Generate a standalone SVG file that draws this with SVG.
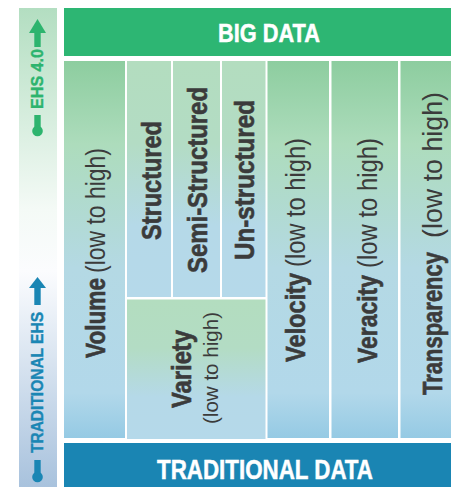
<svg xmlns="http://www.w3.org/2000/svg" width="451" height="487" viewBox="0 0 451 487">
  <defs>
    <linearGradient id="gMain" x1="0" y1="0" x2="0" y2="1">
      <stop offset="0" stop-color="#8dcd9f"/>
      <stop offset="0.22" stop-color="#addcbc"/>
      <stop offset="0.55" stop-color="#b4d9e4"/>
      <stop offset="0.88" stop-color="#b2d8ea"/>
      <stop offset="1" stop-color="#95cae4"/>
    </linearGradient>
    <linearGradient id="gSub" x1="0" y1="0" x2="0" y2="1">
      <stop offset="0" stop-color="#b3ddbf"/>
      <stop offset="0.35" stop-color="#b3dcc4"/>
      <stop offset="0.7" stop-color="#b5d9e8"/>
      <stop offset="1" stop-color="#b5d9ea"/>
    </linearGradient>
    <linearGradient id="gLeft" x1="0" y1="0" x2="0" y2="1">
      <stop offset="0" stop-color="#b3dec1"/>
      <stop offset="0.42" stop-color="#f4faf6"/>
      <stop offset="0.55" stop-color="#fbfcfe"/>
      <stop offset="1" stop-color="#a8c2dd"/>
    </linearGradient>
    <style>
      .b { font-family: "Liberation Sans Narrow", "Liberation Sans", Arial, sans-serif; font-weight: bold; fill: #3b3b3b; stroke: #3b3b3b; stroke-width: 0.6; }
      .r { font-family: "Liberation Sans Narrow", "Liberation Sans", Arial, sans-serif; font-weight: normal; fill: #3b3b3b; }
      .hd { font-family: "Liberation Sans Narrow", "Liberation Sans", Arial, sans-serif; font-weight: bold; fill: #ffffff; stroke: #ffffff; stroke-width: 0.5; }
      .side { font-family: "Liberation Sans Narrow", "Liberation Sans", Arial, sans-serif; font-weight: bold; stroke-width: 0.4; }
    </style>
  </defs>

  <rect x="0" y="0" width="451" height="487" fill="#ffffff"/>

  <g id="left-bar">
    <rect x="19" y="8" width="38" height="479" fill="url(#gLeft)"/>
    <g id="ehs40" fill="#2db46e">
      <polygon points="37.5,19 46,33 29,33"/>
      <rect x="34.3" y="32" width="6.4" height="15"/>
      <text class="side" font-size="17" fill="#2db46e" stroke="#2db46e" transform="translate(42.7,109) rotate(-90)" textLength="60" lengthAdjust="spacingAndGlyphs">EHS 4.0</text>
      <rect x="34.3" y="115" width="6.4" height="16"/>
      <circle cx="37.5" cy="131" r="5.3"/>
    </g>
    <g id="traditional-ehs" fill="#1a86b4">
      <polygon points="37.5,277 46,288 29,288"/>
      <rect x="34.3" y="287" width="6.4" height="18"/>
      <text class="side" font-size="17" fill="#1a86b4" stroke="#1a86b4" transform="translate(43,453) rotate(-90)" textLength="141" lengthAdjust="spacingAndGlyphs">TRADITIONAL EHS</text>
      <rect x="34.3" y="460" width="6.4" height="16"/>
      <circle cx="37.5" cy="477" r="5.3"/>
    </g>
  </g>

  <g id="big-data">
    <rect x="64" y="8" width="387" height="48" fill="#2db673"/>
    <text class="hd" font-size="26" x="269" y="42" text-anchor="middle" textLength="102" lengthAdjust="spacingAndGlyphs">BIG DATA</text>
  </g>

  <g id="volume">
    <rect x="64" y="61" width="61" height="377" fill="url(#gMain)"/>
    <text class="b" font-size="27" transform="translate(105,358) rotate(-90)" textLength="80" lengthAdjust="spacingAndGlyphs">Volume</text>
    <text class="r" font-size="27" transform="translate(105,273) rotate(-90)" textLength="125" lengthAdjust="spacingAndGlyphs">(low to high)</text>
  </g>

  <g id="structured">
    <rect x="127" y="61" width="44" height="236" fill="url(#gSub)"/>
    <text class="b" font-size="27" transform="translate(161,240) rotate(-90)" textLength="119" lengthAdjust="spacingAndGlyphs">Structured</text>
  </g>
  <g id="semi-structured">
    <rect x="173" y="61" width="47" height="236" fill="url(#gSub)"/>
    <text class="b" font-size="27" transform="translate(207,273) rotate(-90)" textLength="186" lengthAdjust="spacingAndGlyphs">Semi-Structured</text>
  </g>
  <g id="un-structured">
    <rect x="222" y="61" width="43.5" height="236" fill="url(#gSub)"/>
    <text class="b" font-size="27" transform="translate(254,260) rotate(-90)" textLength="160" lengthAdjust="spacingAndGlyphs">Un-structured</text>
  </g>

  <g id="variety">
    <rect x="127" y="299.5" width="138.5" height="139.5" fill="url(#gSub)"/>
    <text class="b" font-size="27" transform="translate(191,408) rotate(-90)" textLength="78" lengthAdjust="spacingAndGlyphs">Variety</text>
    <text class="r" font-size="21" transform="translate(217.5,424) rotate(-90)" textLength="112" lengthAdjust="spacingAndGlyphs">(low to high)</text>
  </g>

  <g id="velocity">
    <rect x="267.5" y="61" width="61.5" height="377" fill="url(#gMain)"/>
    <text class="b" font-size="27" transform="translate(305,362) rotate(-90)" textLength="89" lengthAdjust="spacingAndGlyphs">Velocity</text>
    <text class="r" font-size="27" transform="translate(305,267) rotate(-90)" textLength="129" lengthAdjust="spacingAndGlyphs">(low to high)</text>
  </g>

  <g id="veracity">
    <rect x="331.5" y="61" width="66.5" height="377" fill="url(#gMain)"/>
    <text class="b" font-size="27" transform="translate(377,363) rotate(-90)" textLength="88" lengthAdjust="spacingAndGlyphs">Veracity</text>
    <text class="r" font-size="27" transform="translate(377,268) rotate(-90)" textLength="130" lengthAdjust="spacingAndGlyphs">(low to high)</text>
  </g>

  <g id="transparency">
    <rect x="400.5" y="61" width="50.5" height="377" fill="url(#gMain)"/>
    <text class="b" font-size="27" transform="translate(442,395) rotate(-90)" textLength="143" lengthAdjust="spacingAndGlyphs">Transparency</text>
    <text class="r" font-size="27" transform="translate(442,238) rotate(-90)" textLength="146" lengthAdjust="spacingAndGlyphs">(low to high)</text>
  </g>

  <g id="traditional-data">
    <rect x="64" y="443" width="387" height="44" fill="#1a85b3"/>
    <text class="hd" font-size="27" x="265" y="479" text-anchor="middle" textLength="216" lengthAdjust="spacingAndGlyphs">TRADITIONAL DATA</text>
  </g>

  <g id="connectors"/>
</svg>
